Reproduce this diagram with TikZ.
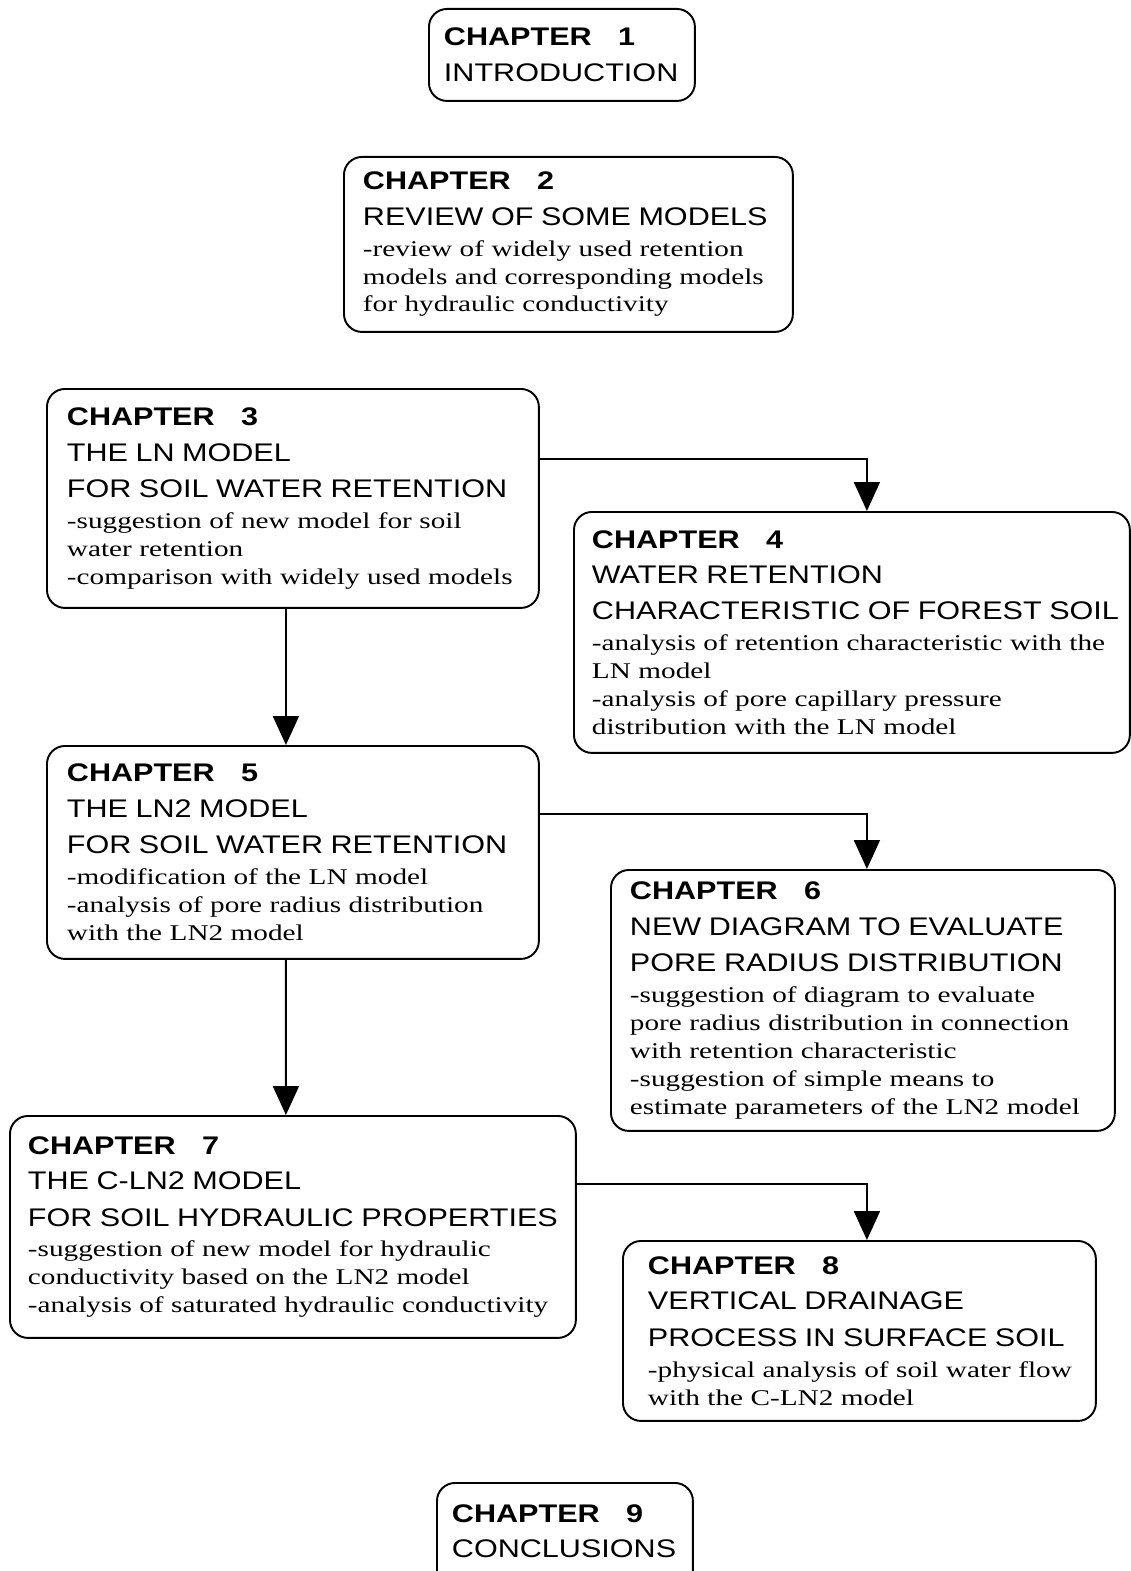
\documentclass[tikz,border=0pt]{standalone}
\usepackage{fontspec}
\setmainfont{Liberation Serif}[FakeStretch=1.3]
\newfontfamily\chsans{Liberation Sans}[FakeStretch=1.2]
\usetikzlibrary{arrows.meta}

\newcommand{\chhead}[1]{{\chsans\bfseries\fontsize{14.5}{15.9}\selectfont CHAPTER\hspace{15pt}#1}}
\newcommand{\chtitle}[1]{\mbox{\chsans\fontsize{14.5}{15.9}\selectfont #1}}
\newcommand{\chline}[1]{\mbox{#1}}

\tikzset{
  chbox/.style n args={3}{draw, line width=1.1pt, rounded corners=0.36cm,
    anchor=north west, inner xsep=0pt, inner ysep=0pt, align=left,
    minimum width=#1cm, text width=#2cm, minimum height=#3cm,
    font=\fontsize{12.8}{15.9}\selectfont},
  flow/.style={line width=1.1pt, -{Triangle[length=0.58cm,width=0.52cm]}},
}

\begin{document}
\begin{tikzpicture}[x=0.02cm, y=-0.02cm]
    \useasboundingbox (0,0) rectangle (1131,1571);

    \node (ch1) [chbox={5.32}{4.72}{1.84}] at (428,8)
        {\chhead{1}\\[4.3pt]\chtitle{INTRODUCTION}};
    \node (ch2) [chbox={8.98}{8.22}{3.50}] at (343,156)
        {\chhead{2}\\[4.3pt]\chtitle{REVIEW OF SOME MODELS}\\[1.6pt]
         \chline{-review of widely used retention}\\
         \chline{models and corresponding models}\\
         \chline{for hydraulic conductivity}};
    \node (ch3) [chbox={9.84}{9.04}{4.38}] at (46,388)
        {\chhead{3}\\[4.3pt]\chtitle{THE LN MODEL}\\[4.8pt]
         \chtitle{FOR SOIL WATER RETENTION}\\[1.6pt]
         \chline{-suggestion of new model for soil}\\
         \chline{water retention}\\
         \chline{-comparison with widely used models}};
    \node (ch4) [chbox={11.12}{10.40}{4.82}] at (573,511)
        {\chhead{4}\\[4.3pt]\chtitle{WATER RETENTION}\\[4.8pt]
         \chtitle{CHARACTERISTIC OF FOREST SOIL}\\[1.6pt]
         \chline{-analysis of retention characteristic with the}\\
         \chline{LN model}\\
         \chline{-analysis of pore capillary pressure}\\
         \chline{distribution with the LN model}};
    \node (ch5) [chbox={9.84}{9.04}{4.26}] at (46,745)
        {\chhead{5}\\[4.3pt]\chtitle{THE LN2 MODEL}\\[4.8pt]
         \chtitle{FOR SOIL WATER RETENTION}\\[1.6pt]
         \chline{-modification of the LN model}\\
         \chline{-analysis of pore radius distribution}\\
         \chline{with the LN2 model}};
    \node (ch6) [chbox={10.08}{9.32}{5.22}] at (610,869)
        {\chhead{6}\\[4.3pt]\chtitle{NEW DIAGRAM TO EVALUATE}\\[4.8pt]
         \chtitle{PORE RADIUS DISTRIBUTION}\\[1.6pt]
         \chline{-suggestion of diagram to evaluate}\\
         \chline{pore radius distribution in connection}\\
         \chline{with retention characteristic}\\
         \chline{-suggestion of simple means to}\\
         \chline{estimate parameters of the LN2 model}};
    \node (ch7) [chbox={11.32}{10.60}{4.44}] at (9,1115)
        {\chhead{7}\\[4.3pt]\chtitle{THE C-LN2 MODEL}\\[4.8pt]
         \chtitle{FOR SOIL HYDRAULIC PROPERTIES}\\[1.6pt]
         \chline{-suggestion of new model for hydraulic}\\
         \chline{conductivity based on the LN2 model}\\
         \chline{-analysis of saturated hydraulic conductivity}};
    \node (ch8) [chbox={9.46}{8.46}{3.60}] at (622,1240)
        {\chhead{8}\\[4.3pt]\chtitle{VERTICAL DRAINAGE}\\[4.8pt]
         \chtitle{PROCESS IN SURFACE SOIL}\\[1.6pt]
         \chline{-physical analysis of soil water flow}\\
         \chline{with the C-LN2 model}};
    \node (ch9) [chbox={5.12}{4.52}{2.82}, text depth=1.6cm] at (436,1482)
        {\chhead{9}\\[4.3pt]\chtitle{CONCLUSIONS}};

    \draw [flow] ([yshift=0.79cm]ch3.east) -| ([xshift=0.30cm]ch4.north);
    \draw [flow] ([xshift=-0.14cm]ch3.south) -- ([xshift=-0.14cm]ch5.north);
    \draw [flow] ([yshift=0.77cm]ch5.east) -| ([xshift=0.08cm]ch6.north);
    \draw [flow] ([xshift=-0.14cm]ch5.south) -- ([xshift=-0.14cm]ch7.north);
    \draw [flow] ([yshift=0.86cm]ch7.east) -| ([xshift=0.15cm]ch8.north);
\end{tikzpicture}
\end{document}
